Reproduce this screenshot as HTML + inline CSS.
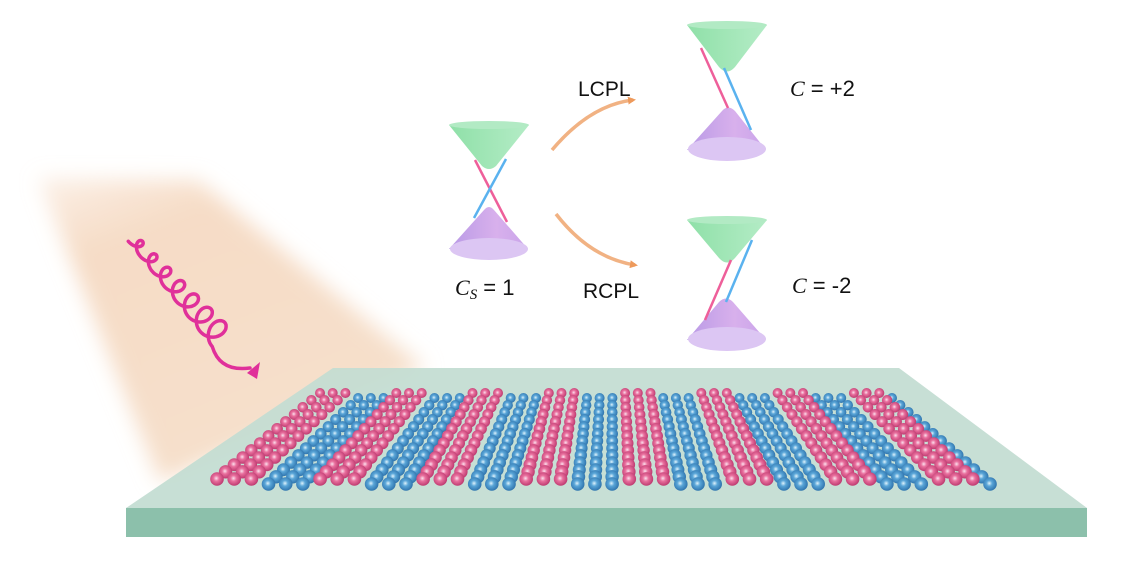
<!DOCTYPE html>
<html><head><meta charset="utf-8"><style>
html,body{margin:0;padding:0;background:#fff;}
svg{display:block;}
text{font-family:"Liberation Sans",sans-serif;fill:#111;}
</style></head><body>
<svg id="s" width="1124" height="562" viewBox="0 0 1124 562" xmlns="http://www.w3.org/2000/svg">
<defs>
<linearGradient id="beam" x1="0" y1="0" x2="0.5" y2="1">
<stop offset="0" stop-color="#f6dac4" stop-opacity="0.4"/>
<stop offset="0.25" stop-color="#f6dcc6" stop-opacity="1"/>
<stop offset="1" stop-color="#f6e0cc" stop-opacity="1"/>
</linearGradient>
<filter id="bl" x="-20%" y="-20%" width="140%" height="140%"><feGaussianBlur stdDeviation="10"/></filter>
<linearGradient id="grn" x1="0" x2="1"><stop offset="0" stop-color="#8fe0a8"/><stop offset="1" stop-color="#b4ecc6"/></linearGradient>
<linearGradient id="pur" x1="0" x2="1"><stop offset="0" stop-color="#b99ae6"/><stop offset="0.6" stop-color="#d8b0ec"/><stop offset="1" stop-color="#c9a4ea"/></linearGradient>
<radialGradient id="pk" cx="0.45" cy="0.45" r="0.6"><stop offset="0" stop-color="#fbe2ee"/><stop offset="0.35" stop-color="#e9709e"/><stop offset="1" stop-color="#b8336a"/></radialGradient>
<radialGradient id="bu" cx="0.45" cy="0.45" r="0.6"><stop offset="0" stop-color="#e0f3fc"/><stop offset="0.35" stop-color="#5aa6d8"/><stop offset="1" stop-color="#2a6ea8"/></radialGradient>
<marker id="ah" markerWidth="8" markerHeight="8" refX="5" refY="4" orient="auto" markerUnits="userSpaceOnUse"><path d="M0,0 L8,4 L0,8 Z" fill="#ee9a5c"/></marker>
</defs>
<polygon points="38,178 198,180 425,368 160,482" fill="url(#beam)" filter="url(#bl)"/>
<polygon points="333,368 899,368 1087,508 126,508" fill="#c3ddd2" opacity="0.93"/>
<rect x="126" y="508" width="961" height="29" fill="#8cc0ab"/>
<g id="atoms"></g>
<g id="hx" fill="none" stroke="#e0309a" stroke-width="3.5" stroke-linecap="round"></g>
<g>
<path d="M449,125 L529,125 L496,166 Q489,172 482,166 Z" fill="url(#grn)"/>
<ellipse cx="489" cy="125" rx="40" ry="4" fill="#b2eac4"/>
<path d="M449,249 L484,210 Q489,204 494,210 L528,249 Z" fill="url(#pur)"/>
<ellipse cx="489" cy="249" rx="39" ry="11" fill="#dcc6f3"/>
<line x1="475" y1="160" x2="507" y2="222" stroke="#ee5f9a" stroke-width="2.5"/>
<line x1="506" y1="159" x2="474" y2="218" stroke="#5ab2ef" stroke-width="2.5"/>
</g>
<g>
<path d="M687,25 L767,25 L735,67 Q727,76 719,67 Z" fill="url(#grn)"/>
<ellipse cx="727" cy="25" rx="40" ry="4" fill="#b2eac4"/>
<path d="M687,150 L722,111 Q728,104 735,111 L766,150 Z" fill="url(#pur)"/>
<ellipse cx="727" cy="149" rx="39" ry="12" fill="#dcc6f3"/>
<line x1="701" y1="48" x2="728" y2="108" stroke="#ee5f9a" stroke-width="2.5"/>
<line x1="724" y1="68" x2="751" y2="130" stroke="#5ab2ef" stroke-width="2.5"/>
</g>
<g>
<path d="M687,220 L767,220 L735,258 Q727,267 719,258 Z" fill="url(#grn)"/>
<ellipse cx="727" cy="220" rx="40" ry="4" fill="#b2eac4"/>
<path d="M687,340 L719,302 Q726,295 733,302 L766,340 Z" fill="url(#pur)"/>
<ellipse cx="727" cy="339" rx="39" ry="12" fill="#dcc6f3"/>
<line x1="731" y1="260" x2="705" y2="320" stroke="#ee5f9a" stroke-width="2.5"/>
<line x1="752" y1="240" x2="726" y2="302" stroke="#5ab2ef" stroke-width="2.5"/>
</g>
<path d="M552,150 Q590,105 633,100" fill="none" stroke="#f1b283" stroke-width="3.5" marker-end="url(#ah)"/>
<path d="M556,214 Q590,258 635,265" fill="none" stroke="#f1b283" stroke-width="3.5" marker-end="url(#ah)"/>
<text x="578" y="96" font-size="21">LCPL</text>
<text x="583" y="298" font-size="21">RCPL</text>
<text x="790" y="96" font-size="22"><tspan font-style="italic" font-family="Liberation Serif">C</tspan> = +2</text>
<text x="792" y="293" font-size="22"><tspan font-style="italic" font-family="Liberation Serif">C</tspan> = -2</text>
<text x="455" y="295" font-size="22"><tspan font-style="italic" font-family="Liberation Serif">C</tspan><tspan font-style="italic" font-family="Liberation Serif" font-size="15" dy="4">S</tspan><tspan dy="-4"> = 1</tspan></text>
</svg>
<script>
(function(){
var NS="http://www.w3.org/2000/svg";
var g=document.getElementById("atoms");
var N=46, R=13;
for(var j=0;j<R;j++){
  var t=j/(R-1);
  var bx0=320, bx1=892, fx0=217, fx1=990;
  var x0=bx0+(fx0-bx0)*t, x1=bx1+(fx1-bx1)*t;
  var y=393+t*86;
  for(var i=0;i<N;i++){
    var x=x0+(x1-x0)*i/(N-1);
    var col=Math.floor(i/3)%2;
    var yy=y+(col?5:0);
    var c=document.createElementNS(NS,"circle");
    c.setAttribute("cx",x.toFixed(1));c.setAttribute("cy",yy.toFixed(1));
    c.setAttribute("r",(5+t*1.8).toFixed(1));
    c.setAttribute("fill",col?"url(#bu)":"url(#pk)");
    g.appendChild(c);
  }
}
var h=document.getElementById("hx");
var d="";
var ax0=132,ay0=238,ax1=222,ay1=338,n=7,steps=7*40;
var L=Math.hypot(ax1-ax0,ay1-ay0), ux=(ax1-ax0)/L, uy=(ay1-ay0)/L, vx=-uy, vy=ux;
for(var k=0;k<=steps;k++){
  var s=k/steps;
  var ang=s*n*2*Math.PI;
  var A=5+8*s, B=6.5+5*s;
  var cx=ax0+(ax1-ax0)*s, cy=ay0+(ay1-ay0)*s;
  var px=cx+vx*A*Math.cos(ang)+ux*B*Math.sin(ang);
  var py=cy+vy*A*Math.cos(ang)+uy*B*Math.sin(ang);
  d+=(k?"L":"M")+px.toFixed(1)+","+py.toFixed(1);
}
d+=" Q220,372 250,368";
var p=document.createElementNS(NS,"path");p.setAttribute("d",d);h.appendChild(p);
var a=document.createElementNS(NS,"path");a.setAttribute("d","M247,373 L260,362 L257,379 Z");a.setAttribute("fill","#e0309a");a.setAttribute("stroke","none");h.appendChild(a);
})();
</script>
</body></html>
